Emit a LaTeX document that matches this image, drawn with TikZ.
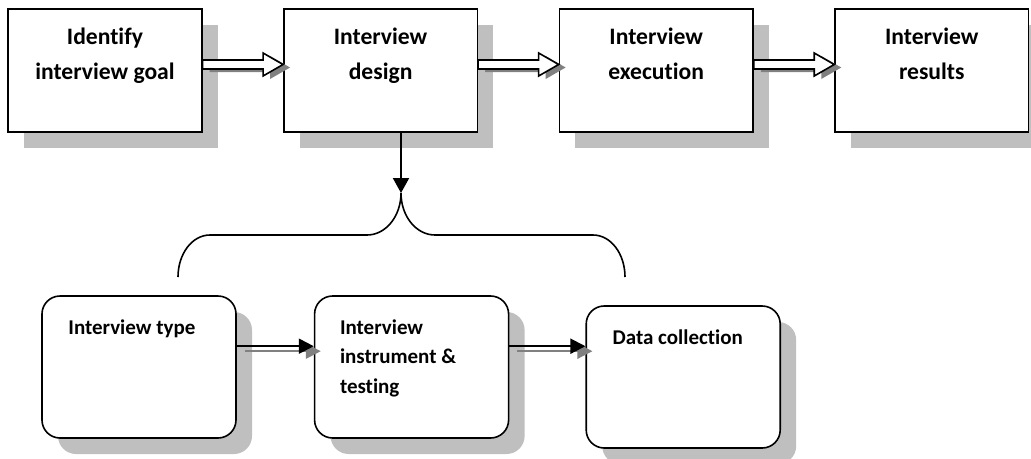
\documentclass[tikz,border=0pt]{standalone}
\usepackage{fontspec}
\setmainfont{Carlito}[Ligatures=NoCommon]
\usetikzlibrary{positioning,calc,shadows,arrows.meta}

\begin{document}
\begin{tikzpicture}[x=1pt, y=-1pt, node distance=80.5pt,
  box/.style={draw, line width=1.6pt, fill=white, inner sep=0pt,
    minimum width=193.5pt, minimum height=123pt,
    drop shadow={fill=black!25, opacity=1, shadow xshift=16pt, shadow yshift=-16pt}},
  roundbox/.style={box, rounded corners=18pt, minimum width=194pt, minimum height=142pt},
  toptext/.style={anchor=north, inner sep=0pt, align=center,
    font=\fontsize{23.6}{35}\selectfont\bfseries},
  lowtext/.style={anchor=north west, inner sep=0pt, align=left,
    font=\fontsize{21}{29.5}\selectfont\bfseries},
  blockarrow/.style={draw, line width=1.6pt, fill=white, line join=miter},
  arrowbody/.style={insert path={++(0,-4.5) -- ++(60.5,0) -- ++(0,-7) -- ++(20,11.5)
    -- ++(-20,11.5) -- ++(0,-7) -- ++(-60.5,0) -- cycle}},
  line/.style={line width=2pt, -{Triangle[length=15pt, width=15pt]}},
  shadowline/.style={line, draw=black!50, -{Triangle[length=15pt, width=15pt, fill=black!50]}}]
  \useasboundingbox (0,0) rectangle (1031,458);

  % Row 1: main steps
  \node[box] (goal) at (105,70.5) {};
  \node[box, right=of goal] (design) {};
  \node[box, right=of design] (exec) {};
  \node[box, right=of exec] (results) {};
  \node[toptext] (goalt) at ($(goal.north)+(0,20)$) {Identify\\interview goal};
  \node[toptext] (designt) at ($(design.north)+(0,20)$) {Interview\\design};
  \node[toptext] (exect) at ($(exec.north)+(0,20)$) {Interview\\execution};
  \node[toptext] (resultst) at ($(results.north)+(0,20)$) {Interview\\results};

  % Row 2: design parts
  \node[roundbox] (type) at (139,367) {};
  \node[roundbox, right=77pt of type] (instr) {};
  \node[roundbox, right=76pt of instr, yshift=-10pt] (data) {};
  \node[lowtext] (typet) at ($(type.north west)+(27,24)$) {Interview type};
  \node[lowtext] (instrt) at ($(instr.north west)+(26,24)$) {Interview\\instrument \&\\testing};
  \node[lowtext] (datat) at ($(data.north west)+(27,24)$) {Data collection};

  % Connections
  \foreach \a/\b in {goal/design, design/exec, exec/results} {
    \coordinate (s) at ($(\a.east)+(0,-6)$);
    \fill[black!50] ($(s)+(7,3)$) [arrowbody];
    \path[blockarrow] (s) [arrowbody];
  }
  \foreach \a/\b in {type/instr, instr/data} {
    \coordinate (s) at ($(\a.north east)+(0,51)$);
    \coordinate (e) at (s -| \b.west);
    \draw[shadowline] ($(s)+(8,5)$) -- ($(e)+(7,5)$);
    \draw[line] (s) -- (e);
  }

  % brace under the design step
  \coordinate (tip) at (401,193);
  \draw[line width=1.6pt] (178,277) .. controls (178,254) and (192,235) .. (210,235)
    -- (367,235) .. controls (386,235) and (401,216) .. (tip)
    .. controls (401,216) and (416,235) .. (435,235)
    -- (593,235) .. controls (611,235) and (625,254) .. (625,277);
  \draw[line, -{Triangle[length=15pt, width=16pt]}] (design.south -| tip) -- (tip);
\end{tikzpicture}
\end{document}
